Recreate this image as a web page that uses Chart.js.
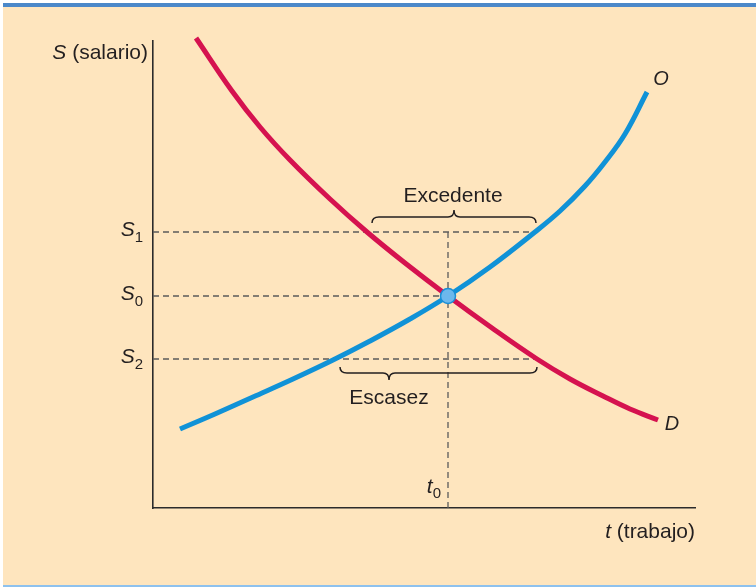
<!DOCTYPE html>
<html>
<head>
<meta charset="utf-8">
<script src="https://cdn.jsdelivr.net/npm/chart.js@4"></script>
<style>
html,body{margin:0;padding:0;background:#ffffff;}
canvas{display:block;}
</style>
</head>
<body>
<canvas id="c" width="756" height="587"></canvas>
<script>
// ---- Data (units: t along x, S along y) ----
const demandT = [43, 79, 107, 137, 177, 214, 252, 295, 339, 384, 417, 450, 477, 505];
const demandS = [470, 417, 381, 348, 309, 276, 245, 212, 180, 149, 129, 112, 99, 88];
const supplyT = [27, 62, 100, 140, 180, 217, 257, 295, 337, 382, 407, 432, 452, 472, 494];
const supplyS = [79, 94, 111, 129, 148, 167, 189, 212, 241, 276, 297, 322, 346, 374, 416];
const levelNames = ['S1', 'S0', 'S2'];
const levelValues = [276, 212, 149];
const levelEndT = [381, 295, 384];
const t0 = 295;
const excedente = [219, 383];   // t range of surplus
const escasez = [187, 384];     // t range of shortage

const toPts = (xs, ys) => xs.map((x, i) => ({x, y: ys[i]}));
const dash = [6, 4];
const dashColor = '#5b5b5b';

const datasets = [
  {data: [{x: t0, y: levelValues[1]}], pointRadius: 7.5, pointBackgroundColor: '#6cb8ec',
   pointBorderColor: '#1a8fd6', pointBorderWidth: 1.5, showLine: false, clip: false},
  {data: toPts(supplyT, supplyS), borderColor: '#1092d7', borderWidth: 5, showLine: true,
   pointRadius: 0, tension: 0.4, borderCapStyle: 'butt', clip: false},
  {data: toPts(demandT, demandS), borderColor: '#d5124f', borderWidth: 5, showLine: true,
   pointRadius: 0, tension: 0.4, borderCapStyle: 'butt', clip: false},
];
levelValues.forEach((v, i) => {
  datasets.push({data: [{x: 0, y: v}, {x: levelEndT[i], y: v}], borderColor: dashColor,
    borderWidth: 1.3, borderDash: dash, showLine: true, pointRadius: 0, clip: false});
});
datasets.push({data: [{x: t0, y: 0}, {x: t0, y: levelValues[0]}], borderColor: dashColor,
  borderWidth: 1.3, borderDash: dash, showLine: true, pointRadius: 0, clip: false});

const FONT = '"Liberation Sans", Arial, Helvetica, sans-serif';
const TXT = '#231f20';

function brace(ctx, x1, x2, xt, y, s) {
  // s = -1 tip up, +1 tip down
  ctx.beginPath();
  ctx.moveTo(x1, y - s * 6);
  ctx.quadraticCurveTo(x1, y, x1 + 7, y);
  ctx.lineTo(xt - 6, y);
  ctx.quadraticCurveTo(xt, y, xt, y + s * 7);
  ctx.quadraticCurveTo(xt, y, xt + 6, y);
  ctx.lineTo(x2 - 7, y);
  ctx.quadraticCurveTo(x2, y, x2, y - s * 6);
  ctx.stroke();
}

const frame = {
  id: 'frame',
  beforeDraw(chart) {
    const ctx = chart.ctx;
    ctx.save();
    ctx.fillStyle = '#ffffff';
    ctx.fillRect(0, 0, 756, 587);
    ctx.fillStyle = '#fee5be';
    ctx.fillRect(3, 3, 753, 583);
    ctx.fillStyle = '#4b88c9';
    ctx.fillRect(3, 3, 753, 4);
    ctx.fillStyle = '#8dc1ee';
    ctx.fillRect(3, 585, 753, 2);
    ctx.restore();
  },
  afterDatasetsDraw(chart) {
    const ctx = chart.ctx;
    const xs = chart.scales.x, ys = chart.scales.y;
    ctx.save();
    ctx.fillStyle = TXT;
    ctx.strokeStyle = TXT;
    ctx.textBaseline = 'middle';

    // y-axis title
    ctx.textAlign = 'left';
    ctx.font = '21px ' + FONT;
    const rest = ' (salario)';
    const wRest = ctx.measureText(rest).width;
    ctx.font = 'italic 21px ' + FONT;
    const wS = ctx.measureText('S').width;
    const right = xs.left - 5;
    ctx.fillText('S', right - wRest - wS, 53);
    ctx.font = '21px ' + FONT;
    ctx.fillText(rest, right - wRest, 53);

    // x-axis title
    ctx.font = '21px ' + FONT;
    const rest2 = ' (trabajo)';
    const w2 = ctx.measureText(rest2).width;
    ctx.font = 'italic 21px ' + FONT;
    const wt = ctx.measureText('t').width;
    ctx.fillText('t', xs.right - w2 - wt, 532);
    ctx.font = '21px ' + FONT;
    ctx.fillText(rest2, xs.right - w2, 532);

    // level labels
    levelValues.forEach((v, i) => {
      const py = ys.getPixelForValue(v);
      const sub = levelNames[i].slice(1);
      ctx.font = '15px ' + FONT;
      const wsub = ctx.measureText(sub).width;
      ctx.fillText(sub, xs.left - 10 - wsub, py + 6);
      ctx.font = 'italic 21px ' + FONT;
      const wSS = ctx.measureText('S').width;
      ctx.fillText('S', xs.left - 10 - wsub - wSS, py - 2);
    });

    // t0 label
    const px0 = xs.getPixelForValue(t0);
    ctx.font = '15px ' + FONT;
    const w0 = ctx.measureText('0').width;
    ctx.fillText('0', px0 - 7 - w0, 494);
    ctx.font = 'italic 21px ' + FONT;
    const wt0 = ctx.measureText('t').width;
    ctx.fillText('t', px0 - 7 - w0 - wt0, 487);

    // curve labels
    ctx.font = 'italic 20px ' + FONT;
    ctx.textAlign = 'center';
    const oEnd = {x: xs.getPixelForValue(supplyT[supplyT.length - 1]), y: ys.getPixelForValue(supplyS[supplyS.length - 1])};
    ctx.fillText('O', oEnd.x + 14, oEnd.y - 13);
    const dEnd = {x: xs.getPixelForValue(demandT[demandT.length - 1]), y: ys.getPixelForValue(demandS[demandS.length - 1])};
    ctx.fillText('D', dEnd.x + 14, dEnd.y + 4);

    // braces and their labels
    ctx.lineWidth = 1.5;
    const eX1 = xs.getPixelForValue(excedente[0]), eX2 = xs.getPixelForValue(excedente[1]);
    const eY = ys.getPixelForValue(levelValues[0]) - 15;
    const eTip = (eX1 + eX2) / 2;
    brace(ctx, eX1, eX2, eTip, eY, -1);
    ctx.font = '21px ' + FONT;
    ctx.fillText('Excedente', eTip - 1, eY - 21);

    const sX1 = xs.getPixelForValue(escasez[0]), sX2 = xs.getPixelForValue(escasez[1]);
    const sY = ys.getPixelForValue(levelValues[2]) + 14;
    const sTip = sX1 + 49;
    brace(ctx, sX1, sX2, sTip, sY, 1);
    ctx.fillText('Escasez', sTip, sY + 25);
    ctx.restore();
  }
};

new Chart(document.getElementById('c'), {
  type: 'scatter',
  data: {datasets},
  options: {
    responsive: false,
    animation: false,
    events: [],
    layout: {padding: {left: 153, right: 61, top: 41, bottom: 79}},
    plugins: {legend: {display: false}, tooltip: {enabled: false}},
    scales: {
      x: {type: 'linear', min: 0, max: 542, display: true,
          ticks: {display: false}, grid: {display: false, drawTicks: false},
          border: {display: true, color: '#2b2b2b', width: 1.6}},
      y: {type: 'linear', min: 0, max: 467, display: true,
          ticks: {display: false}, grid: {display: false, drawTicks: false},
          border: {display: true, color: '#2b2b2b', width: 1.6}}
    }
  },
  plugins: [frame]
});
</script>
</body>
</html>
